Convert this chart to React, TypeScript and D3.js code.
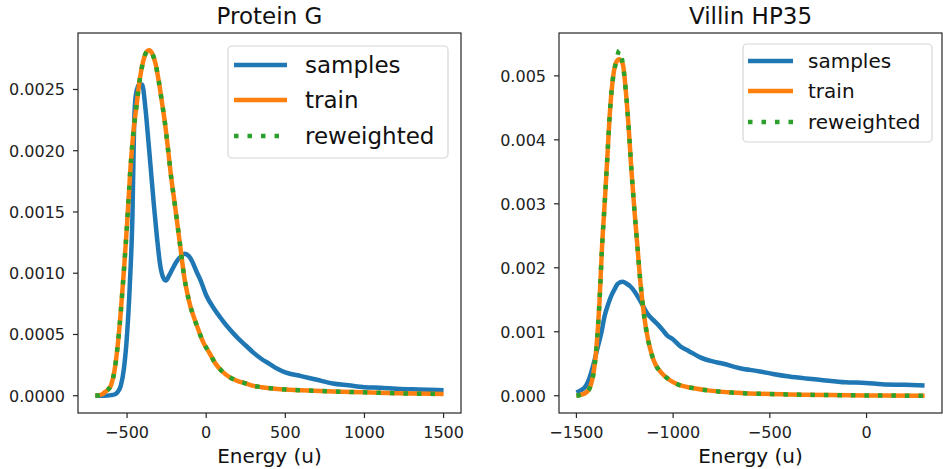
import React, { useRef, useEffect } from "react";
import * as d3 from "d3";

// ---- Protein G ----
const pgSamplesX = [-700, -650, -600, -580, -560, -540, -520, -500, -480, -466, -456, -445, -425, -405, -385, -370, -350, -330, -310, -290, -270, -255, -235, -215, -190, -165, -135, -110, -90, -60, -35, 0, 50, 100, 150, 200, 250, 300, 350, 400, 450, 500, 600, 700, 800, 900, 1000, 1100, 1200, 1300, 1400, 1500];
const pgSamplesY = [0, 0, 0.000005, 0.00001, 0.00003, 0.00008, 0.00022, 0.0005, 0.00098, 0.00147, 0.00218, 0.00245, 0.00254, 0.00254, 0.00236, 0.00215, 0.00185, 0.00155, 0.00128, 0.00106, 0.00096, 0.00094, 0.00098, 0.00103, 0.00109, 0.00113, 0.00116, 0.00114, 0.0011, 0.00101, 0.00094, 0.00082, 0.00071, 0.00062, 0.00054, 0.00047, 0.00041, 0.00035, 0.0003, 0.00026, 0.00022, 0.00019, 0.00016, 0.00013, 0.0001, 0.000085, 0.00007, 0.000065, 0.000056, 0.000052, 0.000048, 0.000045];

const pgTrainX = [-700, -660, -640, -620, -600, -580, -560, -540, -520, -500, -480, -460, -440, -420, -400, -380, -360, -340, -320, -300, -280, -260, -240, -220, -200, -180, -160, -140, -120, -100, -80, -50, -20, 20, 60, 100, 150, 200, 250, 300, 350, 450, 600, 800, 1000, 1200, 1500];
const pgTrainY = [0, 0.00001, 0.00003, 0.00005, 0.00009, 0.0002, 0.0004, 0.00068, 0.00102, 0.0014, 0.00183, 0.00215, 0.00237, 0.00258, 0.00272, 0.0028, 0.00282, 0.00279, 0.00271, 0.00257, 0.0024, 0.00222, 0.002, 0.00177, 0.00158, 0.00138, 0.00118, 0.00098, 0.00084, 0.00073, 0.00065, 0.00054, 0.00044, 0.00035, 0.00026, 0.0002, 0.00015, 0.00012, 0.0001, 0.00008, 0.00007, 0.000055, 0.000045, 0.000035, 0.000028, 0.00002, 0.000014];
const pgReweightedY = pgTrainY;

const pgXTicks = [-500, 0, 500, 1000, 1500];
const pgXTickLabels = ["−500", "0", "500", "1000", "1500"];
const pgYTicks = [0, 0.0005, 0.001, 0.0015, 0.002, 0.0025];
const pgYTickLabels = ["0.0000", "0.0005", "0.0010", "0.0015", "0.0020", "0.0025"];

// ---- Villin HP35 ----
const vSamplesX = [-1500, -1480, -1457, -1440, -1423, -1405, -1388, -1370, -1354, -1337, -1320, -1300, -1286, -1260, -1240, -1218, -1195, -1175, -1155, -1132, -1105, -1081, -1055, -1030, -1000, -962, -920, -860, -800, -740, -654, -552, -484, -400, -313, -244, -108, -5, 80, 200, 300];
const vSamplesY = [0.00005, 0.00008, 0.00013, 0.00022, 0.00037, 0.00057, 0.00078, 0.001, 0.00125, 0.00142, 0.00156, 0.00168, 0.00175, 0.00178, 0.00175, 0.0017, 0.00161, 0.00151, 0.0014, 0.00128, 0.00119, 0.00112, 0.00103, 0.00094, 0.00088, 0.00077, 0.0007, 0.0006, 0.00054, 0.0005, 0.00043, 0.00038, 0.00034, 0.0003, 0.00027, 0.00025, 0.00021, 0.0002, 0.00018, 0.00017, 0.00016];

const vTrainX = [-1500, -1470, -1450, -1430, -1414, -1397, -1380, -1368, -1354, -1341, -1328, -1312, -1295, -1278, -1260, -1245, -1230, -1215, -1200, -1185, -1170, -1150, -1130, -1110, -1090, -1064, -1020, -978, -900, -808, -700, -550, -400, -200, 0, 300];
const vTrainY = [0, 0.00002, 0.00005, 0.00013, 0.00031, 0.00073, 0.00151, 0.0023, 0.0030, 0.00368, 0.00438, 0.00494, 0.00521, 0.00526, 0.00518, 0.00478, 0.0042, 0.0035, 0.0029, 0.00235, 0.0018, 0.00125, 0.00088, 0.00064, 0.00048, 0.00037, 0.00025, 0.00018, 0.00012, 0.00008, 0.00005, 0.00003, 0.00002, 0.00001, 0.000005, 0];
const vReweightedY = [0, 0.00002, 0.00005, 0.00013, 0.00031, 0.00073, 0.00151, 0.0023, 0.0030, 0.00368, 0.00438, 0.00494, 0.00521, 0.0054, 0.00518, 0.00478, 0.0042, 0.0035, 0.0029, 0.00235, 0.0018, 0.00125, 0.00088, 0.00064, 0.00048, 0.00037, 0.00025, 0.00018, 0.00012, 0.00008, 0.00005, 0.00003, 0.00002, 0.00001, 0.000005, 0];

const vXTicks = [-1500, -1000, -500, 0];
const vXTickLabels = ["−1500", "−1000", "−500", "0"];
const vYTicks = [0, 0.001, 0.002, 0.003, 0.004, 0.005];
const vYTickLabels = ["0.000", "0.001", "0.002", "0.003", "0.004", "0.005"];

const seriesNames = ["samples", "train", "reweighted"];
const colors = ["#1f77b4", "#ff7f0e", "#2ca02c"];

const FONT = "DejaVu Sans, sans-serif";

const panels = [
  {
    title: "Protein G",
    box: { left: 78, top: 33, right: 461, bottom: 413 },
    series: [
      { x: pgSamplesX, y: pgSamplesY },
      { x: pgTrainX, y: pgTrainY },
      { x: pgTrainX, y: pgReweightedY },
    ],
    xTicks: pgXTicks,
    xTickLabels: pgXTickLabels,
    yTicks: pgYTicks,
    yTickLabels: pgYTickLabels,
    legend: { x: 228, y: 46, w: 220, h: 112, rows: [65, 100, 136], lineX: [234, 287], textX: 305, font: 23, dy: 8 },
  },
  {
    title: "Villin HP35",
    box: { left: 559, top: 33, right: 942, bottom: 413 },
    series: [
      { x: vSamplesX, y: vSamplesY },
      { x: vTrainX, y: vTrainY },
      { x: vTrainX, y: vReweightedY },
    ],
    xTicks: vXTicks,
    xTickLabels: vXTickLabels,
    yTicks: vYTicks,
    yTickLabels: vYTickLabels,
    legend: { x: 743, y: 44, w: 189, h: 98, rows: [61, 91, 122], lineX: [748, 793], textX: 808, font: 20, dy: 7 },
  },
];

const App = () => {
  const svgRef = useRef<SVGSVGElement>(null);

  useEffect(() => {
    document.body.style.margin = "0";
    const svg = d3.select(svgRef.current);
    svg.selectAll("*").remove();

    panels.forEach((p) => {
      const { left, top, right, bottom } = p.box;
      const allX = p.series.flatMap((s) => s.x);
      const allY = p.series.flatMap((s) => s.y);
      const [x0, x1] = d3.extent(allX) as [number, number];
      const [y0, y1] = d3.extent(allY) as [number, number];
      const mx = (x1 - x0) * 0.05;
      const my = (y1 - y0) * 0.05;

      const x = d3.scaleLinear().domain([x0 - mx, x1 + mx]).range([left, right]);
      const y = d3.scaleLinear().domain([y0 - my, y1 + my]).range([bottom, top]);

      const g = svg.append("g");

      const line = d3
        .line<[number, number]>()
        .x((d) => x(d[0]))
        .y((d) => y(d[1]))
        .curve(d3.curveMonotoneX);

      p.series.forEach((s, i) => {
        const pts = s.x.map((v, j) => [v, s.y[j]] as [number, number]);
        g.append("path")
          .attr("d", line(pts))
          .attr("fill", "none")
          .attr("stroke", colors[i])
          .attr("stroke-width", 4.5)
          .attr("stroke-linejoin", "round")
          .attr("stroke-dasharray", i === 2 ? "4.5 9" : null);
      });

      // frame
      g.append("rect")
        .attr("x", left)
        .attr("y", top)
        .attr("width", right - left)
        .attr("height", bottom - top)
        .attr("fill", "none")
        .attr("stroke", "#262626")
        .attr("stroke-width", 1.2);

      // x ticks
      p.xTicks.forEach((t, i) => {
        g.append("line")
          .attr("x1", x(t))
          .attr("x2", x(t))
          .attr("y1", bottom)
          .attr("y2", bottom + 5)
          .attr("stroke", "#262626")
          .attr("stroke-width", 1.2);
        g.append("text")
          .attr("x", x(t))
          .attr("y", bottom + 25)
          .attr("text-anchor", "middle")
          .style("font-family", FONT)
          .style("font-size", "16px")
          .attr("fill", "#222")
          .text(p.xTickLabels[i]);
      });

      // y ticks
      p.yTicks.forEach((t, i) => {
        g.append("line")
          .attr("x1", left - 5)
          .attr("x2", left)
          .attr("y1", y(t))
          .attr("y2", y(t))
          .attr("stroke", "#262626")
          .attr("stroke-width", 1.2);
        g.append("text")
          .attr("x", left - 13)
          .attr("y", y(t) + 6)
          .attr("text-anchor", "end")
          .style("font-family", FONT)
          .style("font-size", "16px")
          .attr("fill", "#222")
          .text(p.yTickLabels[i]);
      });

      // title and axis label
      g.append("text")
        .attr("x", (left + right) / 2)
        .attr("y", 24)
        .attr("text-anchor", "middle")
        .style("font-family", FONT)
        .style("font-size", "23px")
        .attr("fill", "#111")
        .text(p.title);

      g.append("text")
        .attr("x", (left + right) / 2)
        .attr("y", 463)
        .attr("text-anchor", "middle")
        .style("font-family", FONT)
        .style("font-size", "20px")
        .attr("fill", "#111")
        .text("Energy (u)");

      // legend
      const lg = p.legend;
      g.append("rect")
        .attr("x", lg.x)
        .attr("y", lg.y)
        .attr("width", lg.w)
        .attr("height", lg.h)
        .attr("rx", 4)
        .attr("fill", "white")
        .attr("fill-opacity", 0.8)
        .attr("stroke", "#d6d6d6")
        .attr("stroke-width", 1.2);

      seriesNames.forEach((name, i) => {
        g.append("line")
          .attr("x1", lg.lineX[0])
          .attr("x2", lg.lineX[1])
          .attr("y1", lg.rows[i])
          .attr("y2", lg.rows[i])
          .attr("stroke", colors[i])
          .attr("stroke-width", 4.5)
          .attr("stroke-dasharray", i === 2 ? "4.5 9" : null);
        g.append("text")
          .attr("x", lg.textX)
          .attr("y", lg.rows[i] + lg.dy)
          .style("font-family", FONT)
          .style("font-size", `${lg.font}px`)
          .attr("fill", "#111")
          .text(name);
      });
    });
  }, []);

  return (
    <svg
      ref={svgRef}
      width={943}
      height={469}
      style={{ display: "block", position: "absolute", left: 0, top: 0, background: "white" }}
    ></svg>
  );
};

export default App;
